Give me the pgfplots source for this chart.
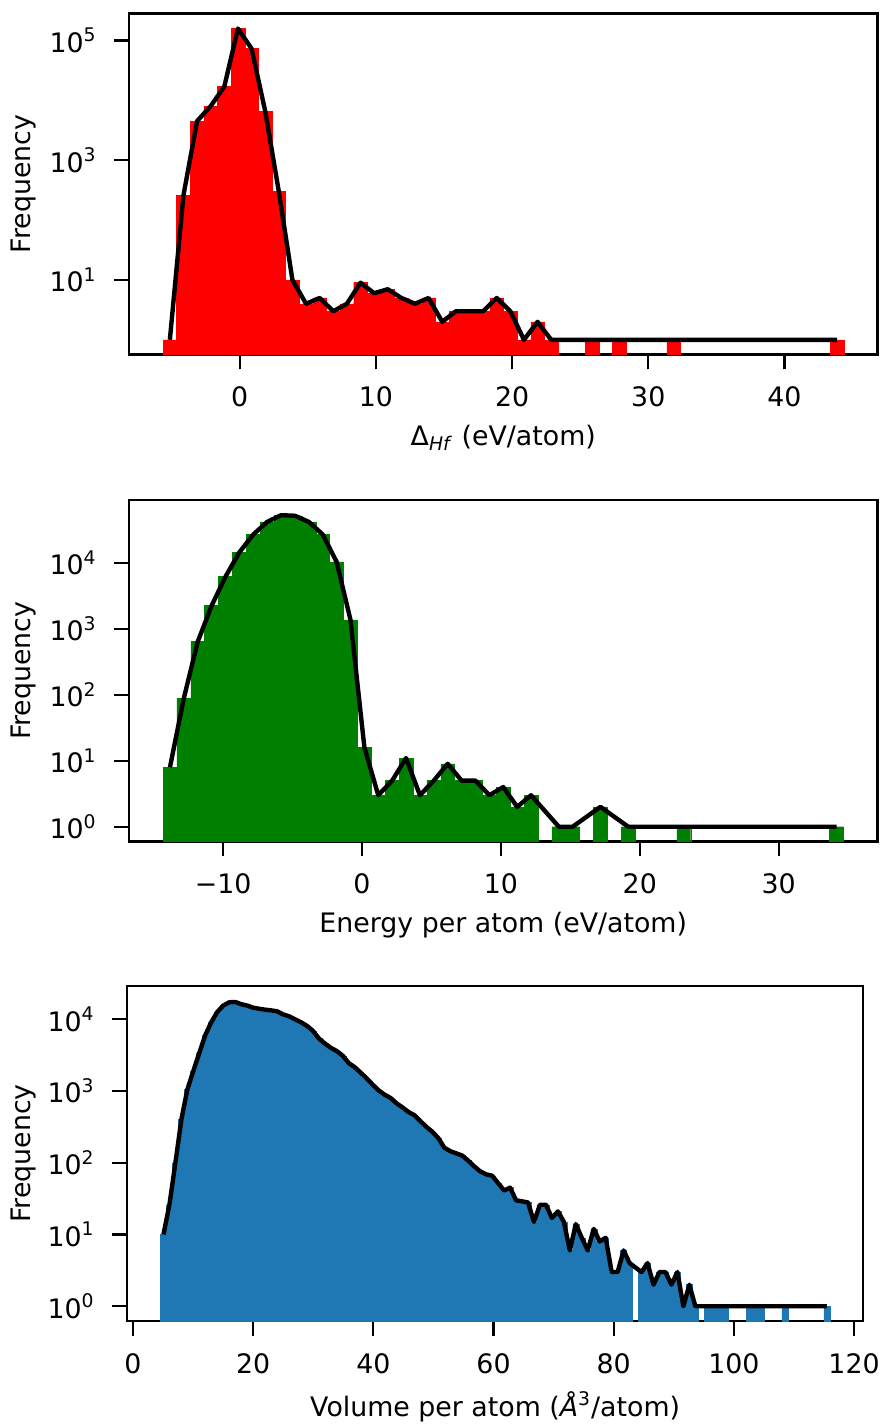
\documentclass[border=0pt]{standalone}
\usepackage{fontspec}
\setmainfont{DejaVu Sans}
\usepackage{pgfplots}
\usepackage{pgfplotstable}
\pgfplotsset{compat=1.18}
\definecolor{tabblue}{HTML}{1F77B4}
\definecolor{mplgreen}{HTML}{008000}

% Panel 1: formation enthalpy histogram (50 bins, width 1.0, first edge -5.63)
\pgfplotstableread{
i v
0 1
1 260
2 4500
3 8000
4 17000
5 158000
6 73000
7 6600
8 300
9 10
10 4
11 5
12 3
13 4
14 9
15 6
16 7
17 5
18 4
19 5
20 2
21 3
22 3
23 3
24 5
25 3
26 1
27 2
28 1
29 nan
30 nan
31 1
32 nan
33 1
34 nan
35 nan
36 nan
37 1
38 nan
39 nan
40 nan
41 nan
42 nan
43 nan
44 nan
45 nan
46 nan
47 nan
48 nan
49 1
}\histA

% Panel 2: energy per atom (49 bins, width 1.0, first edge -14.33)
\pgfplotstableread{
i v
0 8
1 89
2 640
3 2250
4 6200
5 14500
6 27000
7 42000
8 53000
9 52000
10 42000
11 27000
12 10400
13 1370
14 16
15 3
16 5
17 11
18 3
19 5
20 9
21 5
22 5
23 3
24 4
25 2
26 3
27 nan
28 1
29 1
30 nan
31 2
32 nan
33 1
34 nan
35 nan
36 nan
37 1
38 nan
39 nan
40 nan
41 nan
42 nan
43 nan
44 nan
45 nan
46 nan
47 nan
48 1
}\histB

% Panel 3: volume per atom (112 bins, width 0.9946, first edge 4.57)
\pgfplotstableread{
i v
0 10
1 26
2 100
3 400
4 1050
5 1900
6 3400
7 6000
8 9100
9 12600
10 15500
11 17200
12 17400
13 16200
14 15500
15 14500
16 14000
17 13600
18 13300
19 12900
20 11700
21 11000
22 10000
23 9100
24 8100
25 6900
26 5400
27 4600
28 4000
29 3600
30 3100
31 2450
32 2150
33 1800
34 1500
35 1230
36 1020
37 890
38 800
39 675
40 590
41 510
42 460
43 380
44 316
45 270
46 220
47 162
48 145
49 135
50 126
51 107
52 89
53 76
54 69
55 66
56 52
57 41
58 45
59 30
60 29
61 28
62 15
63 26
64 26
65 17
66 21
67 15
68 6
69 14
70 9
71 6
72 12
73 8
74 9
75 3
76 3
77 6
78 4
79 nan
80 3
81 4
82 2
83 3
84 3
85 2
86 3
87 1
88 2
89 1
90 nan
91 1
92 1
93 1
94 1
95 nan
96 nan
97 nan
98 1
99 1
100 1
101 nan
102 nan
103 nan
104 1
105 nan
106 nan
107 nan
108 nan
109 nan
110 nan
111 1
}\histC

\pgfplotsset{
  every axis/.append style={
    scale only axis,
    axis line style={line width=1.1pt},
    major tick length=7.5pt,
    tick align=outside,
    xtick pos=bottom, ytick pos=left,
    xminorticks=false, yminorticks=false,
    font=\fontsize{13.4}{16}\selectfont,
    xticklabel style={anchor=base, yshift=-18.75pt},
    yticklabel style={anchor=east, inner sep=0pt, xshift=-8.5pt},
    ylabel={Frequency},
    clip=true,
  },
  every tick/.append style={black, line width=1.1pt},
  every axis x label/.style={at={(axis description cs:0.5,0)}, anchor=base, yshift=-45.75pt},
}

\begin{document}
\begin{tikzpicture}
\useasboundingbox (0,0) rectangle (440.5pt,712.5pt);

% ---------- Panel 1 ----------
\begin{axis}[
  ymode=log, log origin y=infty,
  at={(64.5pt,535.25pt)}, anchor=south west,
  width=374.25pt, height=170.5pt,
  xmin=-8.13, xmax=46.83,
  ymin=0.5689, ymax=281838,
  xtick={0,10,20,30,40},
  xticklabels={0,10,20,30,40},
  ytick={10,1000,100000},
  yticklabels={10\textsuperscript{1},10\textsuperscript{3},10\textsuperscript{5}},
  every axis y label/.style={at={(axis description cs:-0.1403,0.5)}, rotate=90, anchor=center},
  xlabel={Δ\textsubscript{\textit{Hf}} (eV/atom)},
]
\addplot[ybar, bar width=1.0, bar shift=0pt, fill=red, draw=red, line width=0.2pt]
  table[x expr={-5.13+\thisrow{i}}, y=v] {\histA};
\addplot[black, line width=2.2pt, line join=round, mark=none]
  table[x expr={-5.13+\thisrow{i}}, y=v] {\histA};
\end{axis}

% ---------- Panel 2 ----------
\begin{axis}[
  ymode=log, log origin y=infty,
  at={(64.5pt,291.75pt)}, anchor=south west,
  width=374.25pt, height=170.75pt,
  xmin=-16.78, xmax=37.12,
  ymin=0.597, ymax=90157,
  xtick={-10,0,10,20,30},
  xticklabels={−10,0,10,20,30},
  ytick={1,10,100,1000,10000},
  yticklabels={10\textsuperscript{0},10\textsuperscript{1},10\textsuperscript{2},10\textsuperscript{3},10\textsuperscript{4}},
  every axis y label/.style={at={(axis description cs:-0.1403,0.5)}, rotate=90, anchor=center},
  xlabel={Energy per atom (eV/atom)},
]
\addplot[ybar, bar width=1.0, bar shift=0pt, fill=mplgreen, draw=mplgreen, line width=0.2pt]
  table[x expr={-13.83+\thisrow{i}}, y=v] {\histB};
\addplot[black, line width=2.2pt, line join=round, mark=none]
  table[x expr={-13.83+\thisrow{i}}, y=v] {\histB};
\end{axis}

% ---------- Panel 3 ----------
\begin{axis}[
  ymode=log, log origin y=infty,
  at={(63.5pt,52pt)}, anchor=south west,
  width=368.15pt, height=167.5pt,
  xmin=-1.0, xmax=121.54,
  ymin=0.6237, ymax=29040,
  xtick={0,20,40,60,80,100,120},
  xticklabels={0,20,40,60,80,100,120},
  ytick={1,10,100,1000,10000},
  yticklabels={10\textsuperscript{0},10\textsuperscript{1},10\textsuperscript{2},10\textsuperscript{3},10\textsuperscript{4}},
  every axis y label/.style={at={(axis description cs:-0.1399,0.5)}, rotate=90, anchor=center},
  xlabel={Volume per atom (\textit{Å}\textsuperscript{3}/atom)},
  every axis x label/.style={at={(axis description cs:0.5,0)}, anchor=base, yshift=-47.5pt},
]
\addplot[ybar, bar width=0.9946, bar shift=0pt, fill=tabblue, draw=tabblue, line width=0.2pt]
  table[x expr={5.0673+0.9946*\thisrow{i}}, y=v] {\histC};
\addplot[black, line width=2.2pt, line join=round, mark=none]
  table[x expr={5.0673+0.9946*\thisrow{i}}, y=v] {\histC};
\end{axis}
\end{tikzpicture}
\end{document}
